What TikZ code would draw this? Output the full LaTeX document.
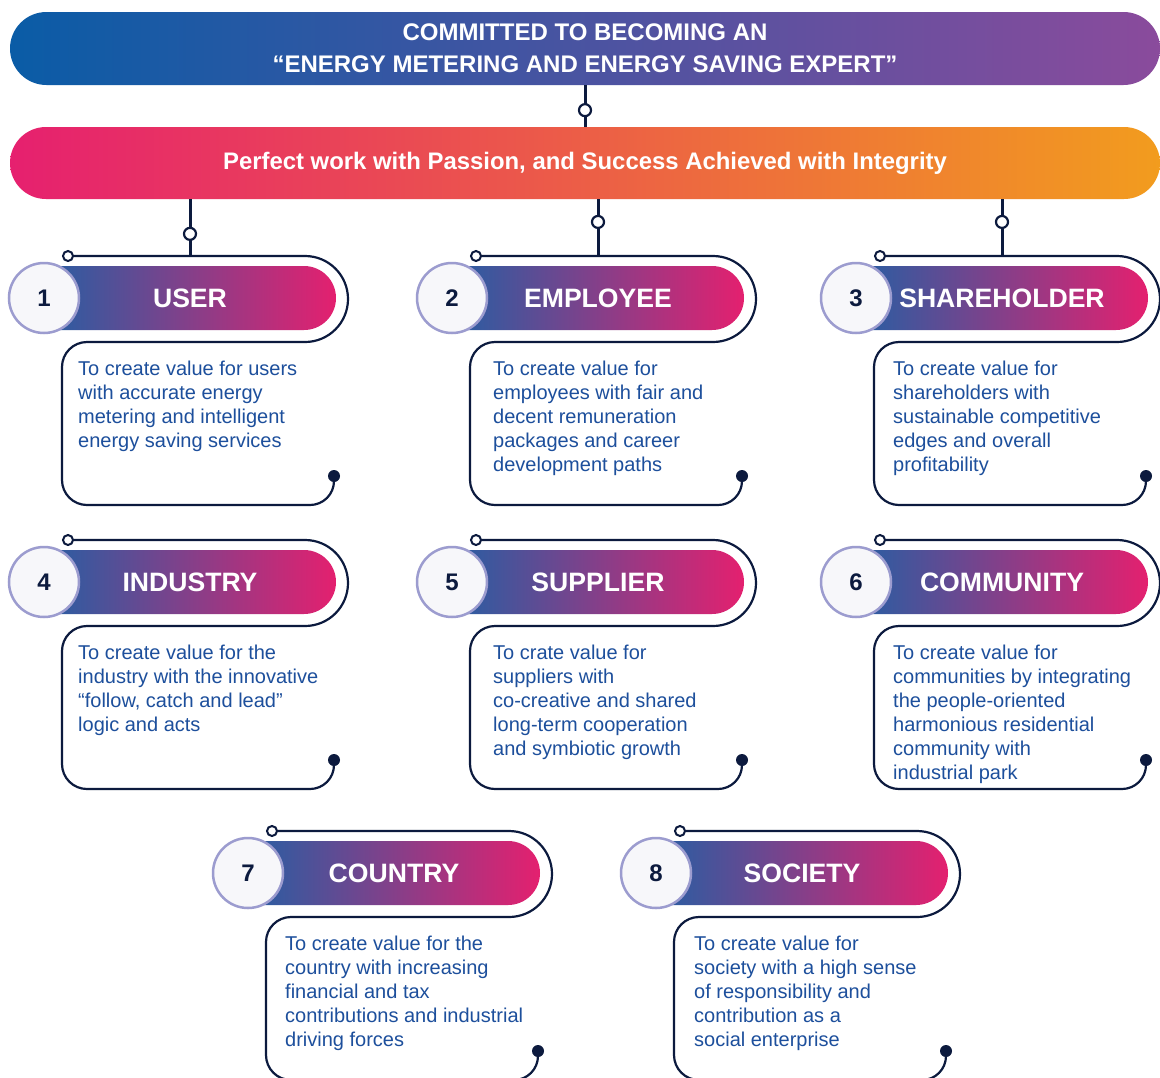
\documentclass[tikz,border=0pt]{standalone}
\usepackage{fontspec}
\setmainfont{Liberation Sans}
\usetikzlibrary{shapes.misc}
\definecolor{navy}{HTML}{0C1A3E}
\definecolor{bodyblue}{HTML}{1D4F9C}
\definecolor{pillL}{HTML}{2A5DA2}
\definecolor{pillM}{HTML}{8C5190}
\definecolor{pillR}{HTML}{E4206F}
\definecolor{bOneL}{HTML}{0A5CA6}
\definecolor{bOneM}{HTML}{4C5AA6}
\definecolor{bOneR}{HTML}{8A4B9C}
\definecolor{bTwoL}{HTML}{E6206F}
\definecolor{bTwoM}{HTML}{EC6060}
\definecolor{bTwoR}{HTML}{F29C1E}
\definecolor{circfill}{HTML}{F7F7FA}
\definecolor{circedge}{HTML}{9C9CCF}
\tikzset{
  outline/.style={draw=navy, line width=2.2pt},
  conn/.style={draw=navy, line width=3pt},
  hollow/.style={circle, draw=navy, fill=white, line width=2.2pt, inner sep=0pt, minimum size=12pt},
  hollowsmall/.style={circle, draw=navy, fill=white, line width=2pt, inner sep=0pt, minimum size=10pt},
  enddot/.style={circle, fill=navy, inner sep=0pt, minimum size=12pt},
  pillshade/.style={left color=pillL, middle color=pillM, right color=pillR},
  numcirc/.style={circle, draw=circedge, fill=circfill, line width=2.5pt, minimum size=70pt, inner sep=0pt, text=navy, font=\bfseries\fontsize{24}{28}\selectfont},
  titletext/.style={text=white, font=\bfseries\fontsize{26.6}{30}\selectfont, inner sep=0pt},
  bodytext/.style={text=bodyblue, font=\fontsize{20}{24}\selectfont, align=left, inner sep=0pt, anchor=north west},
  banner/.style={rounded rectangle, inner sep=0pt, text=white, align=center}
}
\newcommand\valuecard[7]{%
\begin{scope}[shift={(#2,#3)}]
  \draw[outline] (68,256) -- (305,256) arc[start angle=-90,end angle=90,radius=43]
     -- (87,342) arc[start angle=-90,end angle=-180,radius=25]
     -- (62,480) arc[start angle=180,end angle=90,radius=25]
     -- (310,505) arc[start angle=90,end angle=0,radius=24];
  \coordinate (#1-top) at (190,256);
  \node[hollowsmall] (#1-start) at (68,256) {};
  \node[enddot] (#1-end) at (334,476) {};
  \shade[pillshade] (50,266) -- (304,266) arc[start angle=-90,end angle=90,radius=32] -- (50,330) -- cycle;
  \node[numcirc] (#1-num) at (44,298) {#4};
  \node[titletext] (#1-title) at (190,298) {#5};
  \node[bodytext] (#1-text) at (#6,361) {#7};
\end{scope}}
\begin{document}
\begin{tikzpicture}[x=1pt,y=-1pt]
\useasboundingbox (0,0) rectangle (1160,1077);
\fill[white] (0,0) rectangle (1160,1077);
\node[banner, minimum width=1150pt, minimum height=73pt, left color=bOneL, middle color=bOneM, right color=bOneR,
      font=\bfseries\fontsize{24}{32}\selectfont] (b1) at (585,48.5)
      {COMMITTED TO BECOMING AN\\“ENERGY METERING AND ENERGY SAVING EXPERT”};
\node[banner, minimum width=1150pt, minimum height=72pt, left color=bTwoL, middle color=bTwoM, right color=bTwoR,
      font=\bfseries\fontsize{23.9}{28}\selectfont] (b2) at (585,163)
      {Perfect work with Passion, and Success Achieved with Integrity};
\draw[conn] (b1.south) -- node[hollow, pos=0.6] (k0) {} (b2.north);

\valuecard{c1}{0}{0}{1}{USER}{78}{To create value for users\\with accurate energy\\metering and intelligent\\energy saving services}
\valuecard{c2}{408}{0}{2}{EMPLOYEE}{85}{To create value for\\employees with fair and\\decent remuneration\\packages and career\\development paths}
\valuecard{c3}{812}{0}{3}{SHAREHOLDER}{81}{To create value for\\shareholders with\\sustainable competitive\\edges and overall\\profitability}
\valuecard{c4}{0}{284}{4}{INDUSTRY}{78}{To create value for the\\industry with the innovative\\“follow, catch and lead”\\logic and acts}
\valuecard{c5}{408}{284}{5}{SUPPLIER}{85}{To crate value for\\suppliers with\\co-creative and shared\\long-term cooperation\\and symbiotic growth}
\valuecard{c6}{812}{284}{6}{COMMUNITY}{81}{To create value for\\communities by integrating\\the people-oriented\\harmonious residential\\community with\\industrial park}
\valuecard{c7}{204}{575}{7}{COUNTRY}{81}{To create value for the\\country with increasing\\financial and tax\\contributions and industrial\\driving forces}
\valuecard{c8}{612}{575}{8}{SOCIETY}{82}{To create value for\\society with a high sense\\of responsibility and\\contribution as a\\social enterprise}

\draw[conn] (b2.south -| c1-top) -- node[hollow, pos=0.61] (k1) {} (c1-top);
\draw[conn] (b2.south -| c2-top) -- node[hollow, pos=0.40] (k2) {} (c2-top);
\draw[conn] (b2.south -| c3-top) -- node[hollow, pos=0.40] (k3) {} (c3-top);
\end{tikzpicture}
\end{document}
